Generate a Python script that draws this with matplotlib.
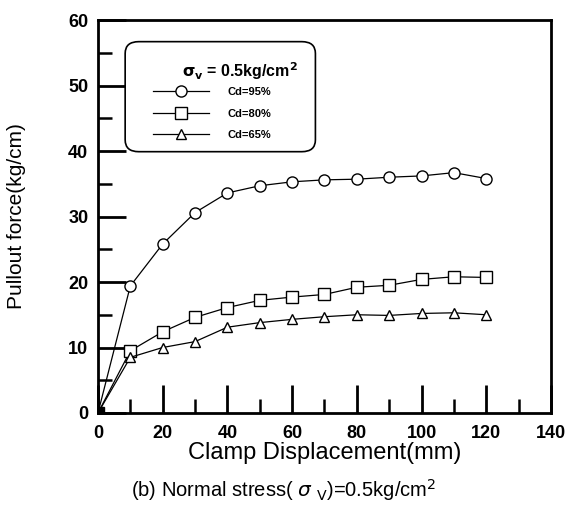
import matplotlib
matplotlib.use("Agg")
import matplotlib.pyplot as plt
from matplotlib.ticker import MultipleLocator
from matplotlib.patches import FancyBboxPatch

plt.rcParams['font.family'] = ['Liberation Sans', 'DejaVu Sans']

# clamp displacement (mm)
disp = [0, 10, 20, 30, 40, 50, 60, 70, 80, 90, 100, 110, 120]

# pullout force (kg/cm)
cd95 = [0, 19.4, 25.8, 30.6, 33.6, 34.7, 35.3, 35.6, 35.7, 36.0, 36.2, 36.7, 35.8]
cd80 = [0, 9.5, 12.4, 14.6, 16.1, 17.2, 17.7, 18.1, 19.2, 19.5, 20.4, 20.8, 20.7]
cd65 = [0, 8.5, 10.0, 10.9, 13.1, 13.8, 14.3, 14.7, 15.0, 14.9, 15.2, 15.3, 15.0]

labels = ['Cd=95%', 'Cd=80%', 'Cd=65%']

fig = plt.figure(figsize=(5.68, 5.14), dpi=100)
ax = fig.add_axes([0.1725, 0.1965, 0.7975, 0.7645])

ax.plot(disp, cd95, color='black', lw=0.9, marker='o', ms=8, mfc='white', mec='black', mew=1.0, label=labels[0])
ax.plot(disp, cd80, color='black', lw=0.9, marker='s', ms=8.5, mfc='white', mec='black', mew=1.0, label=labels[1])
ax.plot(disp, cd65, color='black', lw=0.9, marker='^', ms=7, mfc='white', mec='black', mew=1.0, label=labels[2])
# the overlapping points at the origin show up as a dark blob
ax.plot([disp[0]], [cd95[0]], marker='s', ms=7, color='black', zorder=5)

ax.set_xlim(0, 140)
ax.set_ylim(0, 60)
ax.xaxis.set_major_locator(MultipleLocator(20))
ax.xaxis.set_minor_locator(MultipleLocator(10))
ax.yaxis.set_major_locator(MultipleLocator(10))
ax.yaxis.set_minor_locator(MultipleLocator(5))
ax.tick_params(which='major', direction='in', length=20, width=2, labelsize=13, pad=9)
ax.tick_params(axis='y', which='major', pad=7)
ax.tick_params(which='minor', direction='in', length=10, width=1.8)
ax.tick_params(top=False, right=False, which='both')
for lab in ax.get_xticklabels() + ax.get_yticklabels():
    lab.set_fontweight('bold')
for sp in ax.spines.values():
    sp.set_linewidth(2)

ax.set_xlabel('Clamp Displacement(mm)', fontsize=17, labelpad=0)
ax.set_ylabel('Pullout force(kg/cm)', fontsize=15, labelpad=30)

# legend box with rounded corners
box = FancyBboxPatch((0.075, 0.680), 0.39, 0.25, boxstyle='round,pad=0.015,rounding_size=0.03',
                     transform=ax.transAxes, facecolor='white', edgecolor='black', lw=1.2, zorder=4)
ax.add_patch(box)
ax.text(0.313, 0.870, r'$\mathbf{\sigma_v}$ = 0.5kg/cm$^\mathbf{2}$', transform=ax.transAxes,
        ha='center', va='center', fontsize=11.5, fontweight='bold', zorder=6)
leg = ax.legend(loc='upper left', bbox_to_anchor=(0.121, 0.83), frameon=False,
                prop={'size': 8, 'weight': 'bold'}, handlelength=5.1, handletextpad=1.6,
                borderpad=0, labelspacing=1.05, borderaxespad=0)
leg.set_zorder(6)

fig.text(0.50, 0.047, r'(b) Normal stress( $\sigma$ $_{\rm V}$)=0.5kg/cm$^2$', ha='center', va='center', fontsize=14.5)

fig.savefig('out.png', dpi=100)
